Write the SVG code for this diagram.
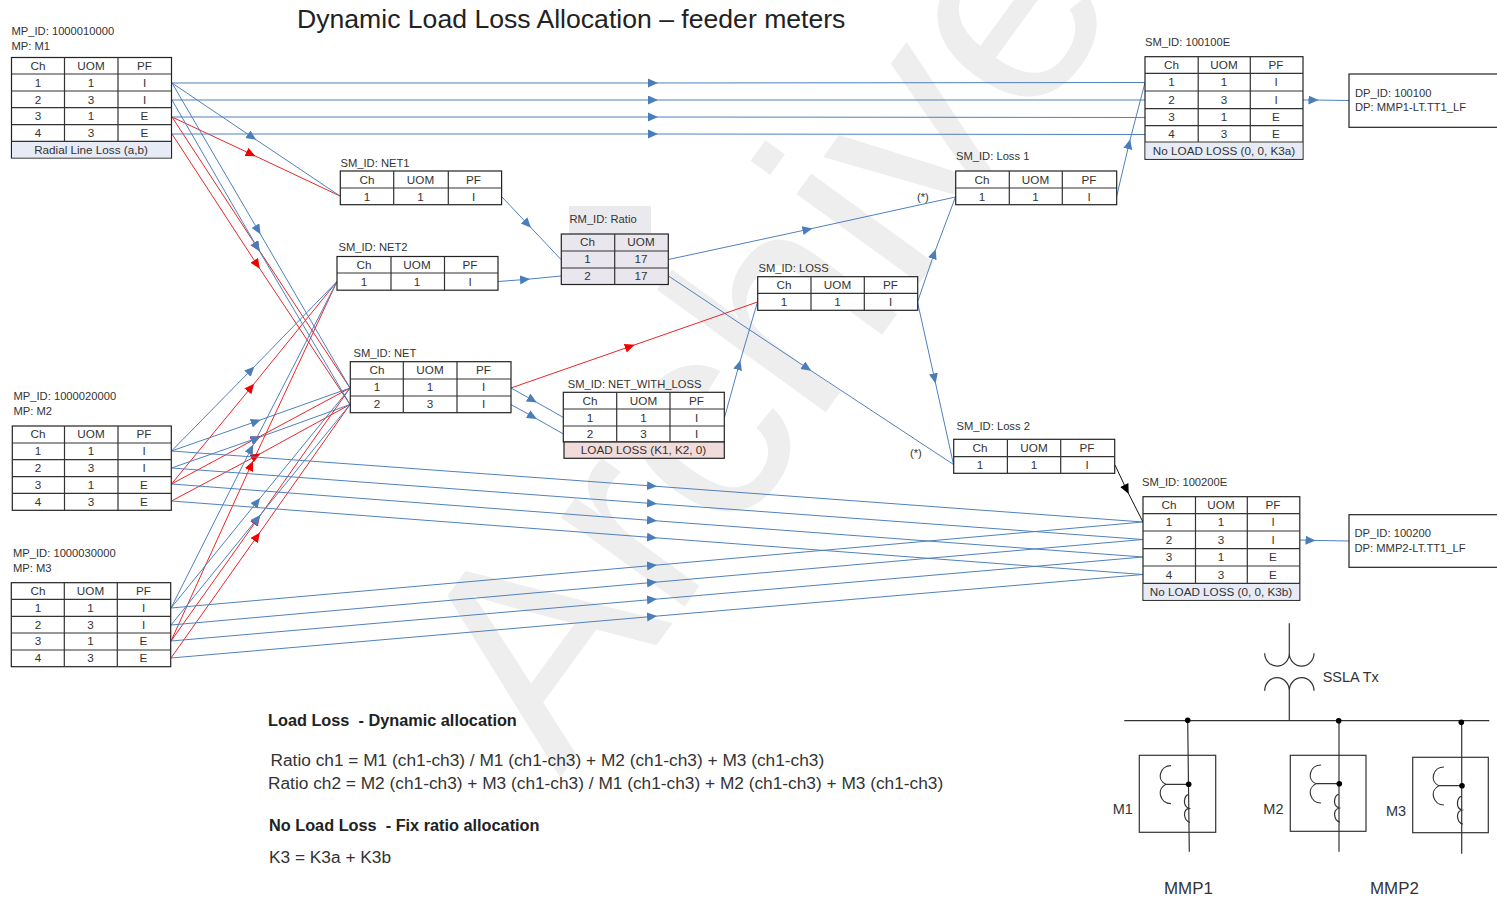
<svg xmlns="http://www.w3.org/2000/svg" width="1497" height="899" viewBox="0 0 1497 899">
<style>
text{font-family:"Liberation Sans",Arial,sans-serif;fill:#333}
.l{font-size:11.2px}
.t{font-size:11.7px;text-anchor:middle}
.box{fill:#fff;stroke:#222;stroke-width:1.2}
.grid{fill:none;stroke:#333;stroke-width:1.2}
.lav{fill:#e9e6ee}
.blu{fill:#e6ebf5}
.pink{fill:#f2dcdb}
.cb{fill:none;stroke:#4f81bd;stroke-width:1;marker-mid:url(#ab)}
.cr{fill:none;stroke:#e8262a;stroke-width:1;marker-mid:url(#ar)}
.ck{fill:none;stroke:#111;stroke-width:1;marker-mid:url(#ak)}
.b{font-size:16.3px;font-weight:bold;fill:#222;white-space:pre}
.n{font-size:17.3px;fill:#333}
.s{fill:none;stroke:#333;stroke-width:1.2}
.d{fill:#000}
.m{font-size:14.5px}
</style>
<defs>
<marker id="ab" markerUnits="userSpaceOnUse" markerWidth="12" markerHeight="10" refX="5" refY="4.5" orient="auto"><path d="M0,0L10,4.5L0,9z" fill="#4a7ebb"/></marker>
<marker id="ar" markerUnits="userSpaceOnUse" markerWidth="12" markerHeight="10" refX="5" refY="4.5" orient="auto"><path d="M0,0L10,4.5L0,9z" fill="#f00000"/></marker>
<marker id="ak" markerUnits="userSpaceOnUse" markerWidth="12" markerHeight="10" refX="5" refY="4.5" orient="auto"><path d="M0,0L10,4.5L0,9z" fill="#000"/></marker>
</defs>
<rect width="1497" height="899" fill="#fff"/>
<g id="watermark">
<text x="560" y="778" transform="rotate(-54 560 778)" font-size="288" style="fill:#eeeeee">Archive</text>
<rect x="569" y="206" width="82" height="28" fill="#eaeaee"/>
</g>
<text x="297" y="28" style="font-size:26.6px;fill:#222">Dynamic Load Loss Allocation – feeder meters</text>
<g id="connectors">
<polyline class="cr" points="172,117 251,154 340,196"/>
<polyline class="cr" points="172,117 257,247 350,388"/>
<polyline class="cr" points="172,134 257,264.5 350,404.5"/>
<polyline class="cr" points="171.5,484 251,387.5 337,281.5"/>
<polyline class="cr" points="171,641 251,465.5 337,281.5"/>
<polyline class="cr" points="171.5,484 256,438.5 350,388"/>
<polyline class="cr" points="171.5,501 256,456 350,404.5"/>
<polyline class="cr" points="171,641 257,520 350,388"/>
<polyline class="cr" points="171,658 257,536.5 350,404.5"/>
<polyline class="cb" points="172,83 653,83 1145,82.5"/>
<polyline class="cb" points="172,100 653,100 1145,100"/>
<polyline class="cb" points="172,117 653,117 1145,117.5"/>
<polyline class="cb" points="172,134 653,134 1145,134.5"/>
<polyline class="cb" points="172,83 252,137 340,196"/>
<polyline class="cb" points="172,83 258,230 350,388"/>
<polyline class="cb" points="172,100 257,247 350,404.5"/>
<polyline class="cb" points="171.5,451 251,370 337,281.5"/>
<polyline class="cb" points="171,608 251,449 337,281.5"/>
<polyline class="cb" points="171.5,451 256,421.5 350,388"/>
<polyline class="cb" points="171.5,468 256,438.5 350,404.5"/>
<polyline class="cb" points="171,608 257,502 350,388"/>
<polyline class="cb" points="171,625 257,519 350,404.5"/>
<polyline class="cb" points="171.5,451 652,486 1143,522"/>
<polyline class="cb" points="171.5,468 652,503.5 1143,539.5"/>
<polyline class="cb" points="171.5,484 652,520.5 1143,557"/>
<polyline class="cb" points="171.5,501 652,537.5 1143,574.5"/>
<polyline class="cb" points="171,608 652,565.5 1143,522"/>
<polyline class="cb" points="171,625 652,582.5 1143,539.5"/>
<polyline class="cb" points="171,641 652,599.5 1143,557"/>
<polyline class="cb" points="171,658 652,616.5 1143,574.5"/>
<polyline class="cb" points="502,197 527.5,224 561,259.5"/>
<polyline class="cb" points="498,281.5 525,279.5 561,276"/>
<polyline class="cb" points="668.5,259.5 807.5,229.5 955.5,197"/>
<polyline class="cb" points="668.5,276 807,368 953.5,464.5"/>
<polyline class="cr" points="511,388 630,346.5 757.5,302"/>
<polyline class="cb" points="511,388 532.5,400 563.5,417.5"/>
<polyline class="cb" points="511,404.5 532.5,416.5 563.5,434"/>
<polyline class="cb" points="724.5,417.5 739,365 757.5,302"/>
<polyline class="cb" points="917.5,302 934,254 955.5,197"/>
<polyline class="cb" points="917.5,302 934.5,378.5 953.5,464.5"/>
<polyline class="cb" points="1116.5,197 1129,144 1145,82.5"/>
<polyline class="ck" points="1115,465 1126.5,489.5 1143,522"/>
<polyline class="cb" points="1303,100 1313.5,100 1349,100.5"/>
<polyline class="cb" points="1300,540 1310.5,540.3 1349,541"/>
</g>
<g id="M1">
<text class="l" x="11.5" y="35">MP_ID: 1000010000</text><text class="l" x="11.5" y="49.5">MP: M1</text>
<rect class="box" x="11.5" y="57.5" width="160" height="100.5"/><rect class="blu" x="12" y="141.5" width="159" height="16"/>
<path class="grid" d="M64.5,57.5V141M118,57.5V141M11.5,74H171.5M11.5,91H171.5M11.5,107.7H171.5M11.5,124.7H171.5M11.5,141.3H171.5"/>
<text class="t" x="38" y="69.5">Ch</text><text class="t" x="91" y="69.5">UOM</text><text class="t" x="144.5" y="69.5">PF</text>
<text class="t" x="38" y="86.5">1</text><text class="t" x="91" y="86.5">1</text><text class="t" x="144.5" y="86.5">I</text>
<text class="t" x="38" y="103.5">2</text><text class="t" x="91" y="103.5">3</text><text class="t" x="144.5" y="103.5">I</text>
<text class="t" x="38" y="120">3</text><text class="t" x="91" y="120">1</text><text class="t" x="144.5" y="120">E</text>
<text class="t" x="38" y="137">4</text><text class="t" x="91" y="137">3</text><text class="t" x="144.5" y="137">E</text>
<text class="t" x="91" y="154">Radial Line Loss (a,b)</text>
</g>
<g id="M2">
<text class="l" x="13.5" y="400">MP_ID: 1000020000</text><text class="l" x="13.5" y="414.7">MP: M2</text>
<rect class="box" x="12.3" y="426" width="159" height="84.3"/>
<path class="grid" d="M64.5,426V510.3M118,426V510.3M12.3,443H171.3M12.3,459.7H171.3M12.3,476.7H171.3M12.3,493.3H171.3"/>
<text class="t" x="38" y="438">Ch</text><text class="t" x="91" y="438">UOM</text><text class="t" x="144" y="438">PF</text>
<text class="t" x="38" y="455">1</text><text class="t" x="91" y="455">1</text><text class="t" x="144" y="455">I</text>
<text class="t" x="38" y="472">2</text><text class="t" x="91" y="472">3</text><text class="t" x="144" y="472">I</text>
<text class="t" x="38" y="488.5">3</text><text class="t" x="91" y="488.5">1</text><text class="t" x="144" y="488.5">E</text>
<text class="t" x="38" y="505.5">4</text><text class="t" x="91" y="505.5">3</text><text class="t" x="144" y="505.5">E</text>
</g>
<g id="M3">
<text class="l" x="13" y="557">MP_ID: 1000030000</text><text class="l" x="13" y="571.7">MP: M3</text>
<rect class="box" x="11.3" y="582.7" width="159.4" height="84"/>
<path class="grid" d="M64.3,582.7V666.7M117.3,582.7V666.7M11.3,599.3H170.7M11.3,616.3H170.7M11.3,633H170.7M11.3,650H170.7"/>
<text class="t" x="38" y="595">Ch</text><text class="t" x="90.5" y="595">UOM</text><text class="t" x="143.5" y="595">PF</text>
<text class="t" x="38" y="612">1</text><text class="t" x="90.5" y="612">1</text><text class="t" x="143.5" y="612">I</text>
<text class="t" x="38" y="628.5">2</text><text class="t" x="90.5" y="628.5">3</text><text class="t" x="143.5" y="628.5">I</text>
<text class="t" x="38" y="645">3</text><text class="t" x="90.5" y="645">1</text><text class="t" x="143.5" y="645">E</text>
<text class="t" x="38" y="662">4</text><text class="t" x="90.5" y="662">3</text><text class="t" x="143.5" y="662">E</text>
</g>
<g id="NET1">
<text class="l" x="340.5" y="167">SM_ID: NET1</text>
<rect class="box" x="340.3" y="171" width="161.3" height="33.7"/>
<path class="grid" d="M393.7,171V204.7M448.3,171V204.7M340.3,188H501.6"/>
<text class="t" x="367" y="183.5">Ch</text><text class="t" x="420.5" y="183.5">UOM</text><text class="t" x="473.5" y="183.5">PF</text>
<text class="t" x="367" y="200.5">1</text><text class="t" x="420.5" y="200.5">1</text><text class="t" x="473.5" y="200.5">I</text>
</g>
<g id="NET2">
<text class="l" x="338.5" y="251">SM_ID: NET2</text>
<rect class="box" x="337" y="256.5" width="161" height="33.7"/>
<path class="grid" d="M391,256.5V290.2M444.5,256.5V290.2M337,273H498"/>
<text class="t" x="364" y="268.5">Ch</text><text class="t" x="417" y="268.5">UOM</text><text class="t" x="470" y="268.5">PF</text>
<text class="t" x="364" y="285.5">1</text><text class="t" x="417" y="285.5">1</text><text class="t" x="470" y="285.5">I</text>
</g>
<g id="NET">
<text class="l" x="353.5" y="357">SM_ID: NET</text>
<rect class="box" x="350.3" y="361.7" width="160.7" height="51"/>
<path class="grid" d="M403.3,361.7V412.7M457,361.7V412.7M350.3,379H511M350.3,396H511"/>
<text class="t" x="377" y="374">Ch</text><text class="t" x="430" y="374">UOM</text><text class="t" x="483.5" y="374">PF</text>
<text class="t" x="377" y="391">1</text><text class="t" x="430" y="391">1</text><text class="t" x="483.5" y="391">I</text>
<text class="t" x="377" y="408">2</text><text class="t" x="430" y="408">3</text><text class="t" x="483.5" y="408">I</text>
</g>
<g id="Ratio">
<text class="l" x="569.5" y="223.3">RM_ID: Ratio</text>
<rect class="box lav" x="561.3" y="234" width="107" height="50.5"/>
<path class="grid" d="M614.7,234V284.5M561.3,251H668.3M561.3,268H668.3"/>
<text class="t" x="587.5" y="246">Ch</text><text class="t" x="641" y="246">UOM</text>
<text class="t" x="587.5" y="263">1</text><text class="t" x="641" y="263">17</text>
<text class="t" x="587.5" y="280">2</text><text class="t" x="641" y="280">17</text>
</g>
<g id="LOSS">
<text class="l" x="758.5" y="272">SM_ID: LOSS</text>
<rect class="box" x="757.7" y="276.7" width="160" height="33.6"/>
<path class="grid" d="M811,276.7V310.3M864.3,276.7V310.3M757.7,293.3H917.7"/>
<text class="t" x="784" y="289">Ch</text><text class="t" x="837.5" y="289">UOM</text><text class="t" x="890.5" y="289">PF</text>
<text class="t" x="784" y="306">1</text><text class="t" x="837.5" y="306">1</text><text class="t" x="890.5" y="306">I</text>
</g>
<g id="NET_WITH_LOSS">
<text class="l" x="567.7" y="387.7">SM_ID: NET_WITH_LOSS</text>
<rect class="box" x="563.3" y="392.3" width="161" height="49.7"/>
<rect class="box pink" x="564" y="442" width="160.3" height="16.3"/>
<path class="grid" d="M616.7,392.3V442M670,392.3V442M563.3,409H724.3M563.3,426H724.3"/>
<text class="t" x="590" y="404.5">Ch</text><text class="t" x="643.5" y="404.5">UOM</text><text class="t" x="696.5" y="404.5">PF</text>
<text class="t" x="590" y="421.5">1</text><text class="t" x="643.5" y="421.5">1</text><text class="t" x="696.5" y="421.5">I</text>
<text class="t" x="590" y="438">2</text><text class="t" x="643.5" y="438">3</text><text class="t" x="696.5" y="438">I</text>
<text class="t" x="643.5" y="453.5">LOAD LOSS (K1, K2, 0)</text>
</g>
<g id="Loss1">
<text class="l" x="956" y="160">SM_ID: Loss 1</text>
<rect class="box" x="955.7" y="171" width="161" height="33.7"/>
<path class="grid" d="M1009.3,171V204.7M1062.3,171V204.7M955.7,188H1116.7"/>
<text class="t" x="982" y="183.5">Ch</text><text class="t" x="1035.5" y="183.5">UOM</text><text class="t" x="1089" y="183.5">PF</text>
<text class="t" x="982" y="200.5">1</text><text class="t" x="1035.5" y="200.5">1</text><text class="t" x="1089" y="200.5">I</text>
<text class="l" x="917" y="200.7">(*)</text>
</g>
<g id="Loss2">
<text class="l" x="956.5" y="430">SM_ID: Loss 2</text>
<rect class="box" x="953.7" y="439.3" width="161" height="34"/>
<path class="grid" d="M1007.4,439.3V473.3M1060.7,439.3V473.3M953.7,456.7H1114.8"/>
<text class="t" x="980" y="452">Ch</text><text class="t" x="1034" y="452">UOM</text><text class="t" x="1087" y="452">PF</text>
<text class="t" x="980" y="469">1</text><text class="t" x="1034" y="469">1</text><text class="t" x="1087" y="469">I</text>
<text class="l" x="910" y="456.7">(*)</text>
</g>
<g id="SM100100E">
<text class="l" x="1145" y="46">SM_ID: 100100E</text>
<rect class="box" x="1145" y="56.7" width="158" height="102.6"/><rect class="blu" x="1145.6" y="142.5" width="156.8" height="16.2"/>
<path class="grid" d="M1198.2,56.7V142M1250.3,56.7V142M1145,73.3H1303M1145,91H1303M1145,108.7H1303M1145,125.7H1303M1145,142H1303"/>
<text class="t" x="1171.5" y="69">Ch</text><text class="t" x="1224" y="69">UOM</text><text class="t" x="1276" y="69">PF</text>
<text class="t" x="1171.5" y="86">1</text><text class="t" x="1224" y="86">1</text><text class="t" x="1276" y="86">I</text>
<text class="t" x="1171.5" y="103.5">2</text><text class="t" x="1224" y="103.5">3</text><text class="t" x="1276" y="103.5">I</text>
<text class="t" x="1171.5" y="121">3</text><text class="t" x="1224" y="121">1</text><text class="t" x="1276" y="121">E</text>
<text class="t" x="1171.5" y="138">4</text><text class="t" x="1224" y="138">3</text><text class="t" x="1276" y="138">E</text>
<text class="t" x="1224" y="155">No LOAD LOSS (0, 0, K3a)</text>
</g>
<g id="SM100200E">
<text class="l" x="1142" y="486">SM_ID: 100200E</text>
<rect class="box" x="1143" y="496.7" width="156.8" height="103.6"/><rect class="blu" x="1143.6" y="583.8" width="155.6" height="16"/>
<path class="grid" d="M1195.5,496.7V583.3M1247.3,496.7V583.3M1143,513.7H1299.8M1143,531H1299.8M1143,548.7H1299.8M1143,566H1299.8M1143,583.3H1299.8"/>
<text class="t" x="1169" y="509">Ch</text><text class="t" x="1221" y="509">UOM</text><text class="t" x="1273" y="509">PF</text>
<text class="t" x="1169" y="526">1</text><text class="t" x="1221" y="526">1</text><text class="t" x="1273" y="526">I</text>
<text class="t" x="1169" y="543.5">2</text><text class="t" x="1221" y="543.5">3</text><text class="t" x="1273" y="543.5">I</text>
<text class="t" x="1169" y="561">3</text><text class="t" x="1221" y="561">1</text><text class="t" x="1273" y="561">E</text>
<text class="t" x="1169" y="578.5">4</text><text class="t" x="1221" y="578.5">3</text><text class="t" x="1273" y="578.5">E</text>
<text class="t" x="1221" y="595.5">No LOAD LOSS (0, 0, K3b)</text>
</g>
<g id="DP100100">
<rect class="box" x="1349" y="74" width="160" height="53.3"/>
<text class="l" x="1355" y="96.7">DP_ID: 100100</text><text class="l" x="1355" y="110.7">DP: MMP1-LT.TT1_LF</text>
</g>
<g id="DP100200">
<rect class="box" x="1349" y="514.7" width="160" height="52.6"/>
<text class="l" x="1354.5" y="537.3">DP_ID: 100200</text><text class="l" x="1354.5" y="551.7">DP: MMP2-LT.TT1_LF</text>
</g>
<g id="notes">
<text class="b" x="268" y="726">Load Loss  - Dynamic allocation</text>
<text class="n" x="270.5" y="765.7">Ratio ch1 = M1 (ch1-ch3) / M1 (ch1-ch3) + M2 (ch1-ch3) + M3 (ch1-ch3)</text>
<text class="n" x="268" y="788.5">Ratio ch2 = M2 (ch1-ch3) + M3 (ch1-ch3) / M1 (ch1-ch3) + M2 (ch1-ch3) + M3 (ch1-ch3)</text>
<text class="b" x="269" y="831">No Load Loss  - Fix ratio allocation</text>
<text class="n" x="269" y="862.7">K3 = K3a + K3b</text>
</g>
<g id="single-line">
<path class="s" d="M1124.3,720.7H1489.3M1289.3,623.3V653.3M1264.7,653.3A12.3,12.8 0 0 0 1289.3,653.3A12.3,12.8 0 0 0 1314,653.3M1264.7,690.7A12.3,13 0 0 1 1289.3,690.7A12.3,13 0 0 1 1314,690.7M1289.3,690.7V720.7"/>
<text class="m" x="1322.7" y="681.7">SSLA Tx</text>
<g id="meterM1">
<rect class="s" x="1139.3" y="755.3" width="76.4" height="77"/>
<path class="s" d="M1187.7,720.3L1189.3,851.7M1166,784.3H1188.7M1171,765.7C1160,765.7 1156,780 1166,784.3C1156,789 1160,803.7 1171,803.7M1189,794.3C1184,795 1182,806 1189,808.3C1182,810 1184,821 1190,822.3"/>
<circle class="d" cx="1187.7" cy="720.3" r="2.8"/><circle class="d" cx="1188.7" cy="784.3" r="2.8"/>
<text class="m" x="1112.7" y="814.3">M1</text>
</g>
<g id="meterM2">
<rect class="s" x="1290.3" y="755.3" width="75.7" height="76"/>
<path class="s" d="M1339,720.7V851.7M1316,783.7H1339.3M1321,765C1310,765 1306,779.5 1316,783.7C1306,788.5 1310,803 1321,803M1339.3,794C1334,795 1332,806 1339.3,808C1332,810 1334,821 1340,822"/>
<circle class="d" cx="1338.7" cy="720.7" r="2.8"/><circle class="d" cx="1339.3" cy="783.7" r="2.8"/>
<text class="m" x="1263.3" y="814">M2</text>
</g>
<g id="meterM3">
<rect class="s" x="1412.7" y="757.3" width="75.6" height="75.4"/>
<path class="s" d="M1461.7,722.3V853.7M1439,785.7H1462M1444,767C1433,767 1429,781.5 1439,785.7C1429,790.5 1433,805 1444,805M1462,796C1457,797 1455,808 1462,810C1455,812 1457,823 1463,824"/>
<circle class="d" cx="1461.3" cy="722.3" r="2.8"/><circle class="d" cx="1462" cy="785.7" r="2.8"/>
<text class="m" x="1386" y="816">M3</text>
</g>
<text x="1164" y="894.3" style="font-size:16.9px">MMP1</text>
<text x="1370" y="894.3" style="font-size:16.9px">MMP2</text>
</g>
</svg>
